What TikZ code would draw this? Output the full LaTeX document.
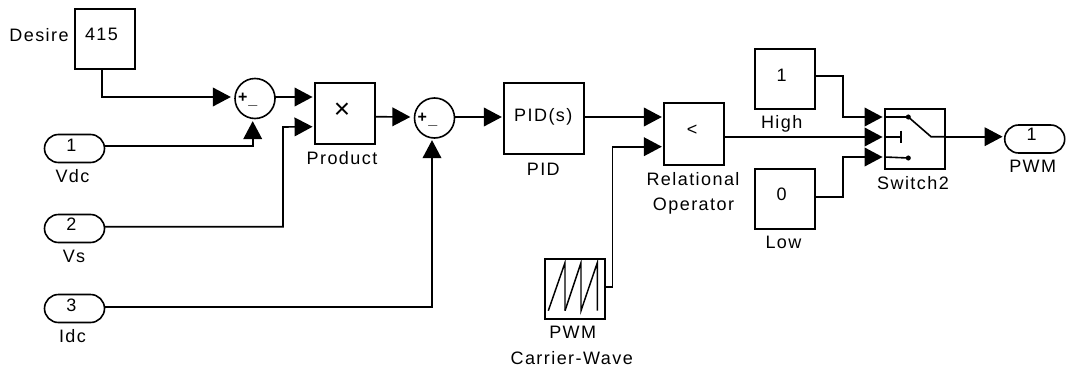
\documentclass[tikz,border=0pt]{standalone}
\usepackage{fontspec}
\setmainfont[LetterSpace=8]{Liberation Sans}
\usetikzlibrary{arrows.meta,calc,shapes.misc}
\tikzset{
  x=0.75pt,y=-0.75pt,
  blk/.style={draw=black,line width=1.2pt,rectangle,inner sep=0pt,outer sep=0pt,minimum width=45pt,minimum height=45pt},
  portb/.style={draw=black,line width=1.2pt,rounded rectangle,inner sep=0pt,outer sep=0pt,minimum width=45pt,minimum height=21pt},
  sumb/.style={draw=black,line width=1.2pt,circle,inner sep=0pt,outer sep=0pt,minimum size=30pt},
  txt/.style={anchor=base,inner sep=0pt,outer sep=0pt,font=\fontsize{13.5pt}{16pt}\selectfont},
  sgn/.style={anchor=base,inner sep=0pt,outer sep=0pt,font=\fontsize{12pt}{14pt}\selectfont\bfseries},
  wire/.style={draw=black,line width=1.2pt},
  arr/.style={wire,-{Triangle[length=13.5pt,width=14pt]},shorten >=1.6pt},
}
\begin{document}
\begin{tikzpicture}
\useasboundingbox (0,0) rectangle (1066,371);
% blocks
\node[blk] (desire) at (104.7,39) {};
\node[blk,minimum height=46pt] (prod) at (344.7,113.5) {};
\node[blk,minimum width=60pt,minimum height=53.25pt] (pid) at (544,118.5) {};
\node[blk,minimum height=46.5pt] (rel) at (694,134) {};
\node[blk] (carrier) at (574.7,289) {};
\node[blk] (high) at (784.7,79) {};
\node[blk] (low) at (784.7,199) {};
\node[blk] (sw) at (914.7,139) {};
\node[sumb] (sumA) at (255,98.5) {};
\node[sumb] (sumB) at (434.5,118) {};
\node[portb] (vdc) at (74.5,148.5) {};
\node[portb] (vs) at (74.5,228.5) {};
\node[portb] (idc) at (74.5,308.5) {};
\node[portb] (pwmout) at (1034.7,139) {};
% texts
\node[txt] (tDesire) at (39,41.7) {Desire};
\node[txt] (t415) at (101.5,40.7) {415};
\node[txt] (tVdcN) at (71.5,151) {1};
\node[txt] (tVdc) at (72.5,182.3) {Vdc};
\node[txt] (tVsN) at (71.5,230.7) {2};
\node[txt] (tVs) at (74,262.3) {Vs};
\node[txt] (tIdcN) at (71.5,311) {3};
\node[txt] (tIdc) at (72.5,342.7) {Idc};
\node[inner sep=0pt,font=\fontsize{21pt}{24pt}\selectfont] (tX) at (342,111) {×};
\node[txt] (tProd) at (342,164) {Product};
\node[txt] (tPIDs) at (543.3,121.7) {PID(s)};
\node[txt] (tPID) at (543.3,175) {PID};
\node[txt] (tLt) at (692,135) {<};
\node[txt] (tRel) at (693,185) {Relational};
\node[txt] (tOp) at (693.5,210) {Operator};
\node[txt] (tPWMc) at (572.7,338.3) {PWM};
\node[txt] (tCW) at (571.7,364) {Carrier-Wave};
\node[txt] (tOne) at (781.7,81) {1};
\node[txt] (tHigh) at (781.7,128.3) {High};
\node[txt] (tZero) at (781.7,200.7) {0};
\node[txt] (tLow) at (783.5,248) {Low};
\node[txt] (tSw) at (913,189) {Switch2};
\node[txt] (tOutN) at (1031.7,140.7) {1};
\node[txt] (tOut) at (1032.7,172.7) {PWM};
\node[sgn] (pA) at (242.7,102) {+};
\node[sgn] (mA) at (252.7,104.5) {\_};
\node[sgn] (pB) at (422.3,122) {+};
\node[sgn] (mB) at (432.7,124.5) {\_};
% bends
\coordinate (vsBend) at (283,127);
\coordinate (cwBend) at (612.5,146.7);
\coordinate (hiBend) at (843,117);
\coordinate (loBend) at (843,157);
% connectors
\draw[arr] ($(desire.south)+(-2.5,0)$) |- ($(sumA.west)+(-2,-1.5)$);
\draw[arr] ($(vdc.east)+(0,-2.5)$) -| ($(sumA.south)+(-2.3,0.5)$);
\draw[arr] ($(sumA.east)+(0,-1.5)$) -- ($(prod.west)+(0,-16.5)$);
\draw[arr] ($(vs.east)+(0,-1.8)$) -| (vsBend) -- ($(prod.west)+(0,13.2)$);
\draw[arr] ($(prod.east)+(0,3.2)$) -- ($(sumB.west)+(-2,-1)$);
\draw[arr] ($(idc.east)+(0,-1.8)$) -| ($(sumB.south)+(-2.5,0)$);
\draw[arr] ($(sumB.east)+(0,-1)$) -- ($(pid.west)+(0,-1.5)$);
\draw[arr] ($(pid.east)+(0,-1.5)$) -- ($(rel.west)+(0,-17)$);
\draw[arr] ($(carrier.east)+(0,-2.3)$) -| (cwBend) -- ($(rel.west)+(0,12.7)$);
\draw[arr] ($(rel.east)+(0,3)$) -- ($(sw.west)+(0,-2)$);
\draw[arr] ($(high.east)+(0,-3)$) -| (hiBend) -- ($(sw.west)+(0,-22)$);
\draw[arr] ($(low.east)+(0,-2)$) -| (loBend) -- ($(sw.west)+(0,18)$);
\draw[arr] ($(sw.east)+(0,-2.3)$) -- ($(pwmout.west)+(0,-2.3)$);
% switch icon
\draw[wire] ($(sw.west)+(0,-22)$) -- (908.3,117) -- (931,136.7) -- ($(sw.east)+(0,-2.3)$);
\draw[wire] ($(sw.west)+(0,-2)$) -- (901,137);
\draw[wire] (901,130.7) -- (901,142.7);
\draw[wire] ($(sw.west)+(0,18)$) -- (908.3,158);
\fill (908.3,117) circle[radius=1.9pt];
\fill (908.3,158) circle[radius=1.9pt];
% sawtooth icon
\draw[line width=1.1pt] (548.3,310.7) -- (565,262.7) -- (565,310.7);
\draw[line width=1.1pt] (565,310.7) -- (581,262.7) -- (581,310.7) -- (597.3,262.7) -- (597.3,310.7);
\end{tikzpicture}
\end{document}
